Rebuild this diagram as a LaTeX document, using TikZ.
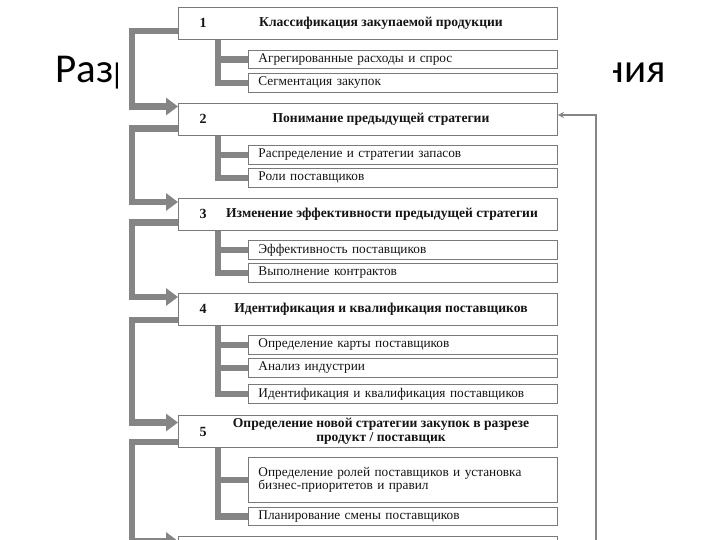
\documentclass[tikz,border=0pt]{standalone}
\usepackage{fontspec}
\setmainfont{Liberation Serif}
\newfontfamily\titlefont{Carlito}
\usetikzlibrary{arrows.meta}
\definecolor{boxgray}{HTML}{7A7A7A}
\definecolor{conngray}{HTML}{858585}
\definecolor{inkc}{HTML}{141414}
\begin{document}
\begin{tikzpicture}[x=1pt,y=-1pt,
  mainbox/.style={draw=boxgray, line width=0.9pt, fill=white, minimum width=379pt, minimum height=32pt, inner sep=0pt, anchor=north west},
  subbox/.style={draw=boxgray, line width=0.9pt, fill=white, minimum width=309pt, text width=289pt, inner xsep=10pt, inner ysep=0pt, align=left, anchor=north west, text=inkc, font=\fontsize{13.3}{13.5}\selectfont},
  numtext/.style={text=inkc, font=\fontsize{14}{16}\selectfont\bfseries},
  ttltext/.style={text=inkc, align=center, font=\fontsize{13.6}{14}\selectfont\bfseries},
  slidetitle/.style={font=\titlefont\fontsize{41}{48}\selectfont, inner sep=0pt},
  conn/.style={draw=conngray, line width=6.5pt, line join=miter},
  connarr/.style={conn, -{Triangle[length=12pt,width=17pt]}},
  fb/.style={draw=conngray, line width=1.3pt, -{Stealth[length=6pt,width=6pt]}}
]
\clip (0,0) rectangle (720,540);
\useasboundingbox (0,0) rectangle (720,540);
% slide title (partly hidden by the scanned diagram)
\node[slidetitle, anchor=base west] (tl) at (55,83) {Разр};
\node[slidetitle, anchor=base east] (tr) at (666,83) {ния};
\fill[white] (118,0) rectangle (613,540);

% main boxes
\node[mainbox] (b1) at (178,7) {};
\node[mainbox] (b2) at (178,103) {};
\node[mainbox] (b3) at (178,198) {};
\node[mainbox] (b4) at (178,293) {};
\node[mainbox] (b5) at (178,415) {};
\node[mainbox] (b6) at (178,536) {};

% sub boxes
\node[subbox, minimum height=18pt] (s1a) at (248,50) {Агрегированные расходы и спрос};
\node[subbox, minimum height=19pt] (s1b) at (248,73) {Сегментация закупок};
\node[subbox, minimum height=19pt] (s2a) at (248,145) {Распределение и стратегии запасов};
\node[subbox, minimum height=19pt] (s2b) at (248,168) {Роли поставщиков};
\node[subbox, minimum height=19pt] (s3a) at (248,240) {Эффективность поставщиков};
\node[subbox, minimum height=19pt] (s3b) at (248,263) {Выполнение контрактов};
\node[subbox, minimum height=19pt] (s4a) at (248,335) {Определение карты поставщиков};
\node[subbox, minimum height=19pt] (s4b) at (248,358) {Анализ индустрии};
\node[subbox, minimum height=19pt] (s4c) at (248,384) {Идентификация и квалификация поставщиков};
\node[subbox, minimum height=45pt] (s5a) at (248,457) {Определение ролей поставщиков и установка\\бизнес-приоритетов и правил};
\node[subbox, minimum height=18pt] (s5b) at (248,507) {Планирование смены поставщиков};

% outer chain
\draw[connarr] ([yshift=9pt]b1.south west) -- ++(-46,0) |- ([yshift=-3.5pt]b2.north west);
\draw[connarr] ([yshift=7.5pt]b2.south west) -- ++(-46,0) |- ([yshift=-4pt]b3.north west);
\draw[connarr] ([yshift=8.5pt]b3.south west) -- ++(-46,0) |- ([yshift=-4pt]b4.north west);
\draw[connarr] ([yshift=6pt]b4.south west) -- ++(-46,0) |- ([yshift=-7.5pt]b5.north west);
\draw[connarr] ([yshift=6pt]b5.south west) -- ++(-46,0) |- ([yshift=-5pt]b6.north west);
% inner branches
\draw[conn] ([xshift=40pt]b1.south west) |- (s1b.west);
\draw[conn] (s1a.west) -- ([xshift=40pt]b1.south west |- s1a.west);
\draw[conn] ([xshift=40pt]b2.south west) |- (s2b.west);
\draw[conn] (s2a.west) -- ([xshift=40pt]b2.south west |- s2a.west);
\draw[conn] ([xshift=40pt]b3.south west) |- (s3b.west);
\draw[conn] (s3a.west) -- ([xshift=40pt]b3.south west |- s3a.west);
\draw[conn] ([xshift=40pt]b4.south west) |- (s4c.west);
\draw[conn] (s4a.west) -- ([xshift=40pt]b4.south west |- s4a.west);
\draw[conn] (s4b.west) -- ([xshift=40pt]b4.south west |- s4b.west);
\draw[conn] ([xshift=40pt]b5.south west) |- (s5b.west);
\draw[conn] (s5a.west) -- ([xshift=40pt]b5.south west |- s5a.west);

% feedback line
\coordinate (fbstart) at (596,545);
\draw[fb] (fbstart) |- ([yshift=-12pt]b2.north east);

% box texts
\node[numtext] (n1) at (203,23) {1};
\node[ttltext] (t1) at (381,23) {Классификация закупаемой продукции};
\node[numtext] (n2) at (203,119) {2};
\node[ttltext] (t2) at (381,119) {Понимание предыдущей стратегии};
\node[numtext] (n3) at (203,214) {3};
\node[ttltext] (t3) at (382,214) {Изменение эффективности предыдущей стратегии};
\node[numtext] (n4) at (203,309) {4};
\node[ttltext] (t4) at (381,309) {Идентификация и квалификация поставщиков};
\node[numtext] (n5) at (203,432) {5};
\node[ttltext] (t5) at (381,431) {Определение новой стратегии закупок в разрезе\\продукт / поставщик};
\end{tikzpicture}
\end{document}
